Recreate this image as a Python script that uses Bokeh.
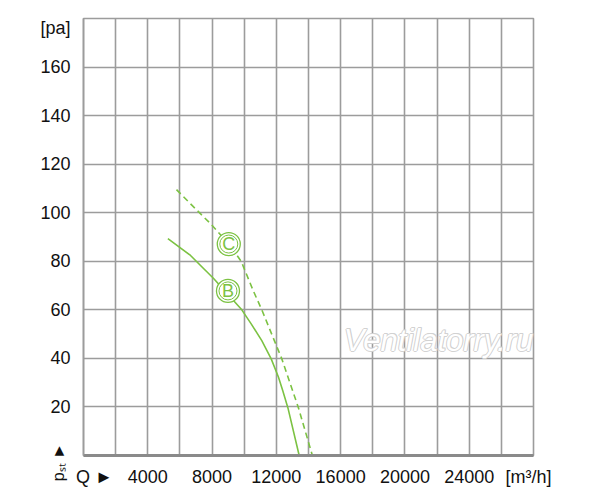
from bokeh.plotting import figure
from bokeh.models import FixedTicker, Label, Range1d, LinearAxis
from bokeh.embed import file_html
from bokeh.resources import INLINE
from bokeh.core.properties import value

# ---- data ----
b_q = [5250, 6660, 8110, 9850, 10434, 11094, 11679, 12133, 12400, 12720, 13420]
b_p = [89.3, 82.4, 72.8, 60.0, 54.2, 47.3, 39.8, 32.2, 26.7, 19.6, 0]

c_q = [5785, 6865, 7900, 9040, 9810, 10560, 11094, 12340, 13377, 14240]
c_p = [109.5, 102.3, 95.5, 87.2, 80.0, 67.9, 60.0, 39.8, 19.6, 0]

curve_names = ["B", "C"]
label_q = [8990, 9040]
label_p = [67.8, 87.1]

x_ticks = [684, 4000, 8000, 12000, 16000, 20000, 24000, 27690]
x_tick_text = {684: "Q \u25BA", 27690: "[m\u00B3/h]"}
x_grid = list(range(0, 28001, 2000))
y_ticks = [20, 40, 60, 80, 100, 120, 140, 160, 176]
y_tick_text = {176: "[pa]"}
y_grid = list(range(0, 181, 20))
pst_tick = [0]
pst_text = {0: "p\u209B\u209C \u25BA\u00A0\u00A0\u00A0"}

GREEN = "#7cc243"
GRID = "#9c9c9c"
FONT = "Liberation Sans"

p = figure(width=598, height=496, x_range=Range1d(0, 28000), y_range=Range1d(0, 180),
           output_backend="svg", toolbar_location=None,
           min_border_left=83, min_border_right=65, min_border_top=18, min_border_bottom=41)
p.background_fill_color = "white"
p.border_fill_color = "white"
p.outline_line_color = GRID
p.outline_line_width = 1.6

p.xgrid.ticker = FixedTicker(ticks=x_grid)
p.ygrid.ticker = FixedTicker(ticks=y_grid)
for g in (p.xgrid, p.ygrid):
    g.grid_line_color = GRID
    g.grid_line_width = 1.6

p.xaxis.ticker = FixedTicker(ticks=x_ticks)
p.xaxis.major_label_overrides = x_tick_text
p.yaxis.ticker = FixedTicker(ticks=y_ticks)
p.yaxis.major_label_overrides = y_tick_text
for ax in (p.xaxis, p.yaxis):
    ax.major_tick_line_color = None
    ax.minor_tick_line_color = None
    ax.major_label_text_font = FONT
    ax.major_label_text_font_size = "18px"
    ax.major_label_text_color = "#111111"
p.xaxis.axis_line_color = "#8a8a8a"
p.xaxis.axis_line_width = 3
p.xaxis.major_label_standoff = 5
p.yaxis.axis_line_color = GRID
p.yaxis.axis_line_width = 1.6
p.yaxis.major_label_standoff = 7

# rotated p_st caption as an extra left axis
ax2 = LinearAxis(ticker=FixedTicker(ticks=pst_tick), major_label_overrides=pst_text,
                 major_label_orientation="vertical", major_label_standoff=-29,
                 major_tick_out=0, major_tick_in=0, minor_tick_out=0, minor_tick_in=0,
                 axis_line_color=None, major_tick_line_color=None, minor_tick_line_color=None,
                 major_label_text_font=FONT, major_label_text_font_size="16px",
                 major_label_text_color="#111111")
p.add_layout(ax2, "left")

# watermark
wm_q, wm_p = 22090, 40.3
for dx, dy in [(-1, 0), (1, 0), (0, -1), (0, 1), (1, 1)]:
    p.add_layout(Label(x=wm_q, y=wm_p, x_offset=dx, y_offset=dy, text="Ventilatorry.ru",
                       text_font=FONT, text_font_style="italic", text_font_size="31px",
                       text_color="#d2d2d2", text_align="center"))
p.add_layout(Label(x=wm_q, y=wm_p, text="Ventilatorry.ru",
                   text_font=FONT, text_font_style="italic", text_font_size="31px",
                   text_color="white", text_align="center"))

# curves
p.line(b_q, b_p, line_color=GREEN, line_width=1.6)
p.line(c_q, c_p, line_color=GREEN, line_width=1.6, line_dash="6 4")

# curve markers
p.scatter(label_q, label_p, marker="circle", size=23, fill_color="white",
          line_color=GREEN, line_width=1.3)
p.scatter(label_q, label_p, marker="circle", size=18, fill_color=None,
          line_color=GREEN, line_width=1.0)
p.text(label_q, label_p, text=curve_names, text_color=GREEN, text_font=value(FONT),
       text_font_size="18px", text_align="center", text_baseline="middle")

open("out.html", "w").write(file_html(p, INLINE))
